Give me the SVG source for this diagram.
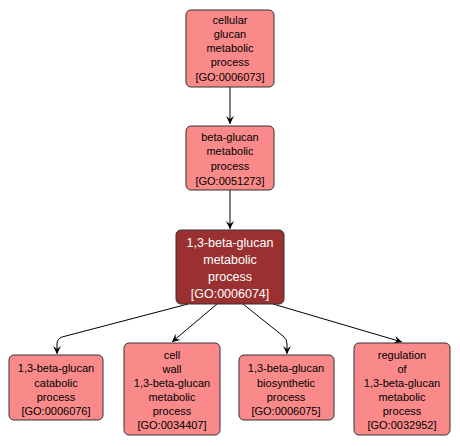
<svg xmlns="http://www.w3.org/2000/svg" width="460" height="446" viewBox="0 0 460 446">
<style>
.n rect{fill:#fa8a8a;stroke:#333;stroke-width:1}
.d rect{fill:#9b3030;stroke:#333;stroke-width:1}
.n text{font-family:"Liberation Sans",Arial,sans-serif;font-size:11px;fill:#000;text-anchor:middle}
.d text{font-family:"Liberation Sans",Arial,sans-serif;font-size:12.5px;fill:#fff;text-anchor:middle}
.e path{fill:none;stroke:#000;stroke-width:1}
</style>
<defs>
<marker id="a" markerWidth="10" markerHeight="10" refX="8" refY="5" orient="auto" markerUnits="userSpaceOnUse">
<path d="M0,1 L8,5 L0,9 L3,5 Z" fill="#000"/>
</marker>
</defs>
<rect width="460" height="446" fill="#fff"/>
<g class="e">
<path d="M230,87 L230,124" marker-end="url(#a)"/>
<path d="M230,190 L230,229" marker-end="url(#a)"/>
<path d="M188,304 L62,337 Q57,339 57,344 L57,354" marker-end="url(#a)"/>
<path d="M217,304 L172,342" marker-end="url(#a)"/>
<path d="M243,304 L283,336 Q287,339 287,344 L287,354" marker-end="url(#a)"/>
<path d="M273,304 L402,342" marker-end="url(#a)"/>
</g>
<g id="n1" class="n"><rect x="186" y="10" width="88" height="77" rx="5"/>
<text x="230" y="24">cellular</text><text x="230" y="38">glucan</text><text x="230" y="52">metabolic</text><text x="230" y="66">process</text><text x="230" y="81">[GO:0006073]</text></g>
<g id="n2" class="n"><rect x="186" y="126" width="88" height="64" rx="5"/>
<text x="230" y="141">beta-glucan</text><text x="230" y="155">metabolic</text><text x="230" y="170">process</text><text x="230" y="185">[GO:0051273]</text></g>
<g id="n3" class="d"><rect x="176" y="230" width="108" height="74" rx="5"/>
<text x="230" y="247">1,3-beta-glucan</text><text x="230" y="264">metabolic</text><text x="230" y="281">process</text><text x="230" y="298">[GO:0006074]</text></g>
<g id="n4" class="n"><rect x="9" y="355" width="94" height="65" rx="5"/>
<text x="56" y="372">1,3-beta-glucan</text><text x="56" y="387">catabolic</text><text x="56" y="401">process</text><text x="56" y="415">[GO:0006076]</text></g>
<g id="n5" class="n"><rect x="124" y="343" width="96" height="92" rx="5"/>
<text x="172" y="359">cell</text><text x="172" y="373">wall</text><text x="172" y="387">1,3-beta-glucan</text><text x="172" y="401">metabolic</text><text x="172" y="415">process</text><text x="172" y="429">[GO:0034407]</text></g>
<g id="n6" class="n"><rect x="239" y="355" width="95" height="65" rx="5"/>
<text x="286" y="372">1,3-beta-glucan</text><text x="286" y="387">biosynthetic</text><text x="286" y="401">process</text><text x="286" y="415">[GO:0006075]</text></g>
<g id="n7" class="n"><rect x="354" y="343" width="96" height="92" rx="5"/>
<text x="402" y="359">regulation</text><text x="402" y="373">of</text><text x="402" y="387">1,3-beta-glucan</text><text x="402" y="401">metabolic</text><text x="402" y="415">process</text><text x="402" y="429">[GO:0032952]</text></g>
</svg>
